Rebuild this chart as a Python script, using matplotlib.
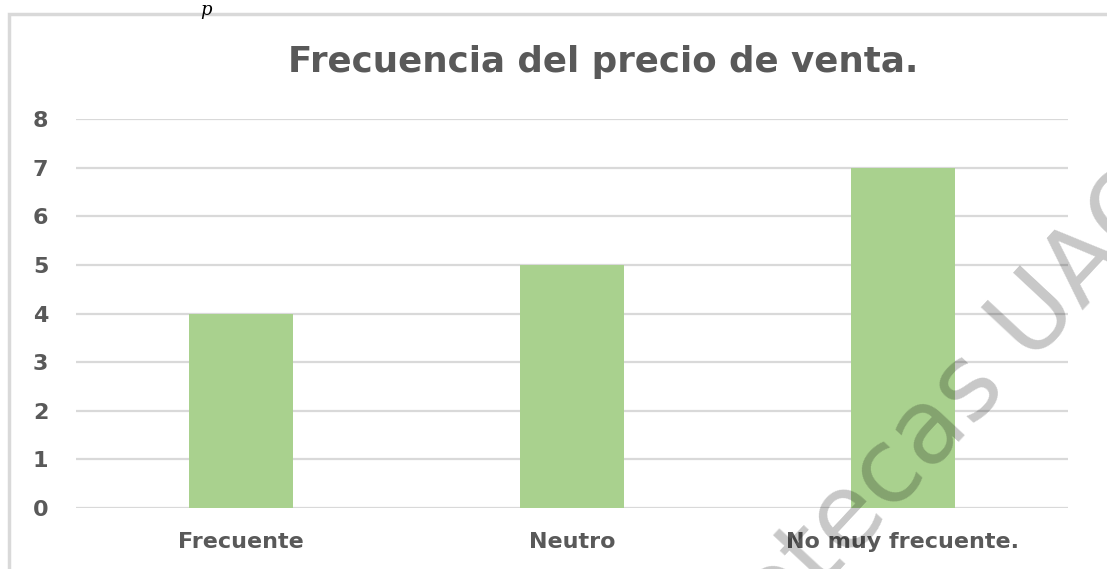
import matplotlib
matplotlib.use("Agg")
import matplotlib.pyplot as plt
from matplotlib.patches import Rectangle

categories = ["Frecuente", "Neutro", "No muy frecuente."]
values = [4, 5, 7]
yticks = [0, 1, 2, 3, 4, 5, 6, 7, 8]
title = "Frecuencia del precio de venta."
watermark = "otecas UAQ"

W, H = 1107, 569
fig = plt.figure(figsize=(W / 100, H / 100), dpi=100)
fig.patch.set_facecolor("white")

# outer chart border (cropped from the document)
fig.patches.append(Rectangle((9 / W, -0.05), 1.2, (H - 14) / H + 0.05,
                             transform=fig.transFigure, fill=False,
                             edgecolor="#d9d9d9", linewidth=2.5))
fig.text(206 / W, 1 - 1 / H, "p", fontsize=13, style="italic", family="DejaVu Serif",
         ha="center", va="top", color="black")

ax = fig.add_axes([76 / W, 61 / H, (1068 - 76) / W, (508 - 119) / H])
x = range(len(categories))
ax.bar(x, values, width=0.315, color="#a9d18e", zorder=3)
ax.set_xlim(-0.5, len(categories) - 0.5)
ax.set_ylim(0, 8)
ax.set_yticks(yticks)
ax.set_xticks(list(x))
ax.set_xticklabels(categories)
ax.grid(axis="y", color="#d9d9d9", linewidth=1.6, zorder=0)
for s in ax.spines.values():
    s.set_visible(False)
ax.tick_params(length=0)
ax.tick_params(axis="y", pad=20)
ax.tick_params(axis="x", pad=17)
for lab in ax.get_yticklabels() + ax.get_xticklabels():
    lab.set_fontsize(16)
    lab.set_fontweight("bold")
    lab.set_color("#595959")

fig.text(603 / W, 1 - 62 / H, title, fontsize=25.7, fontweight="bold",
         color="#595959", ha="center", va="center")

# semi-transparent library watermark over the chart
fig.text(960 / W, 1 - 400 / H, watermark, fontsize=74, color="black", alpha=0.22,
         rotation=47, rotation_mode="anchor", ha="center", va="center", zorder=10)

fig.savefig("out.png", dpi=100)
